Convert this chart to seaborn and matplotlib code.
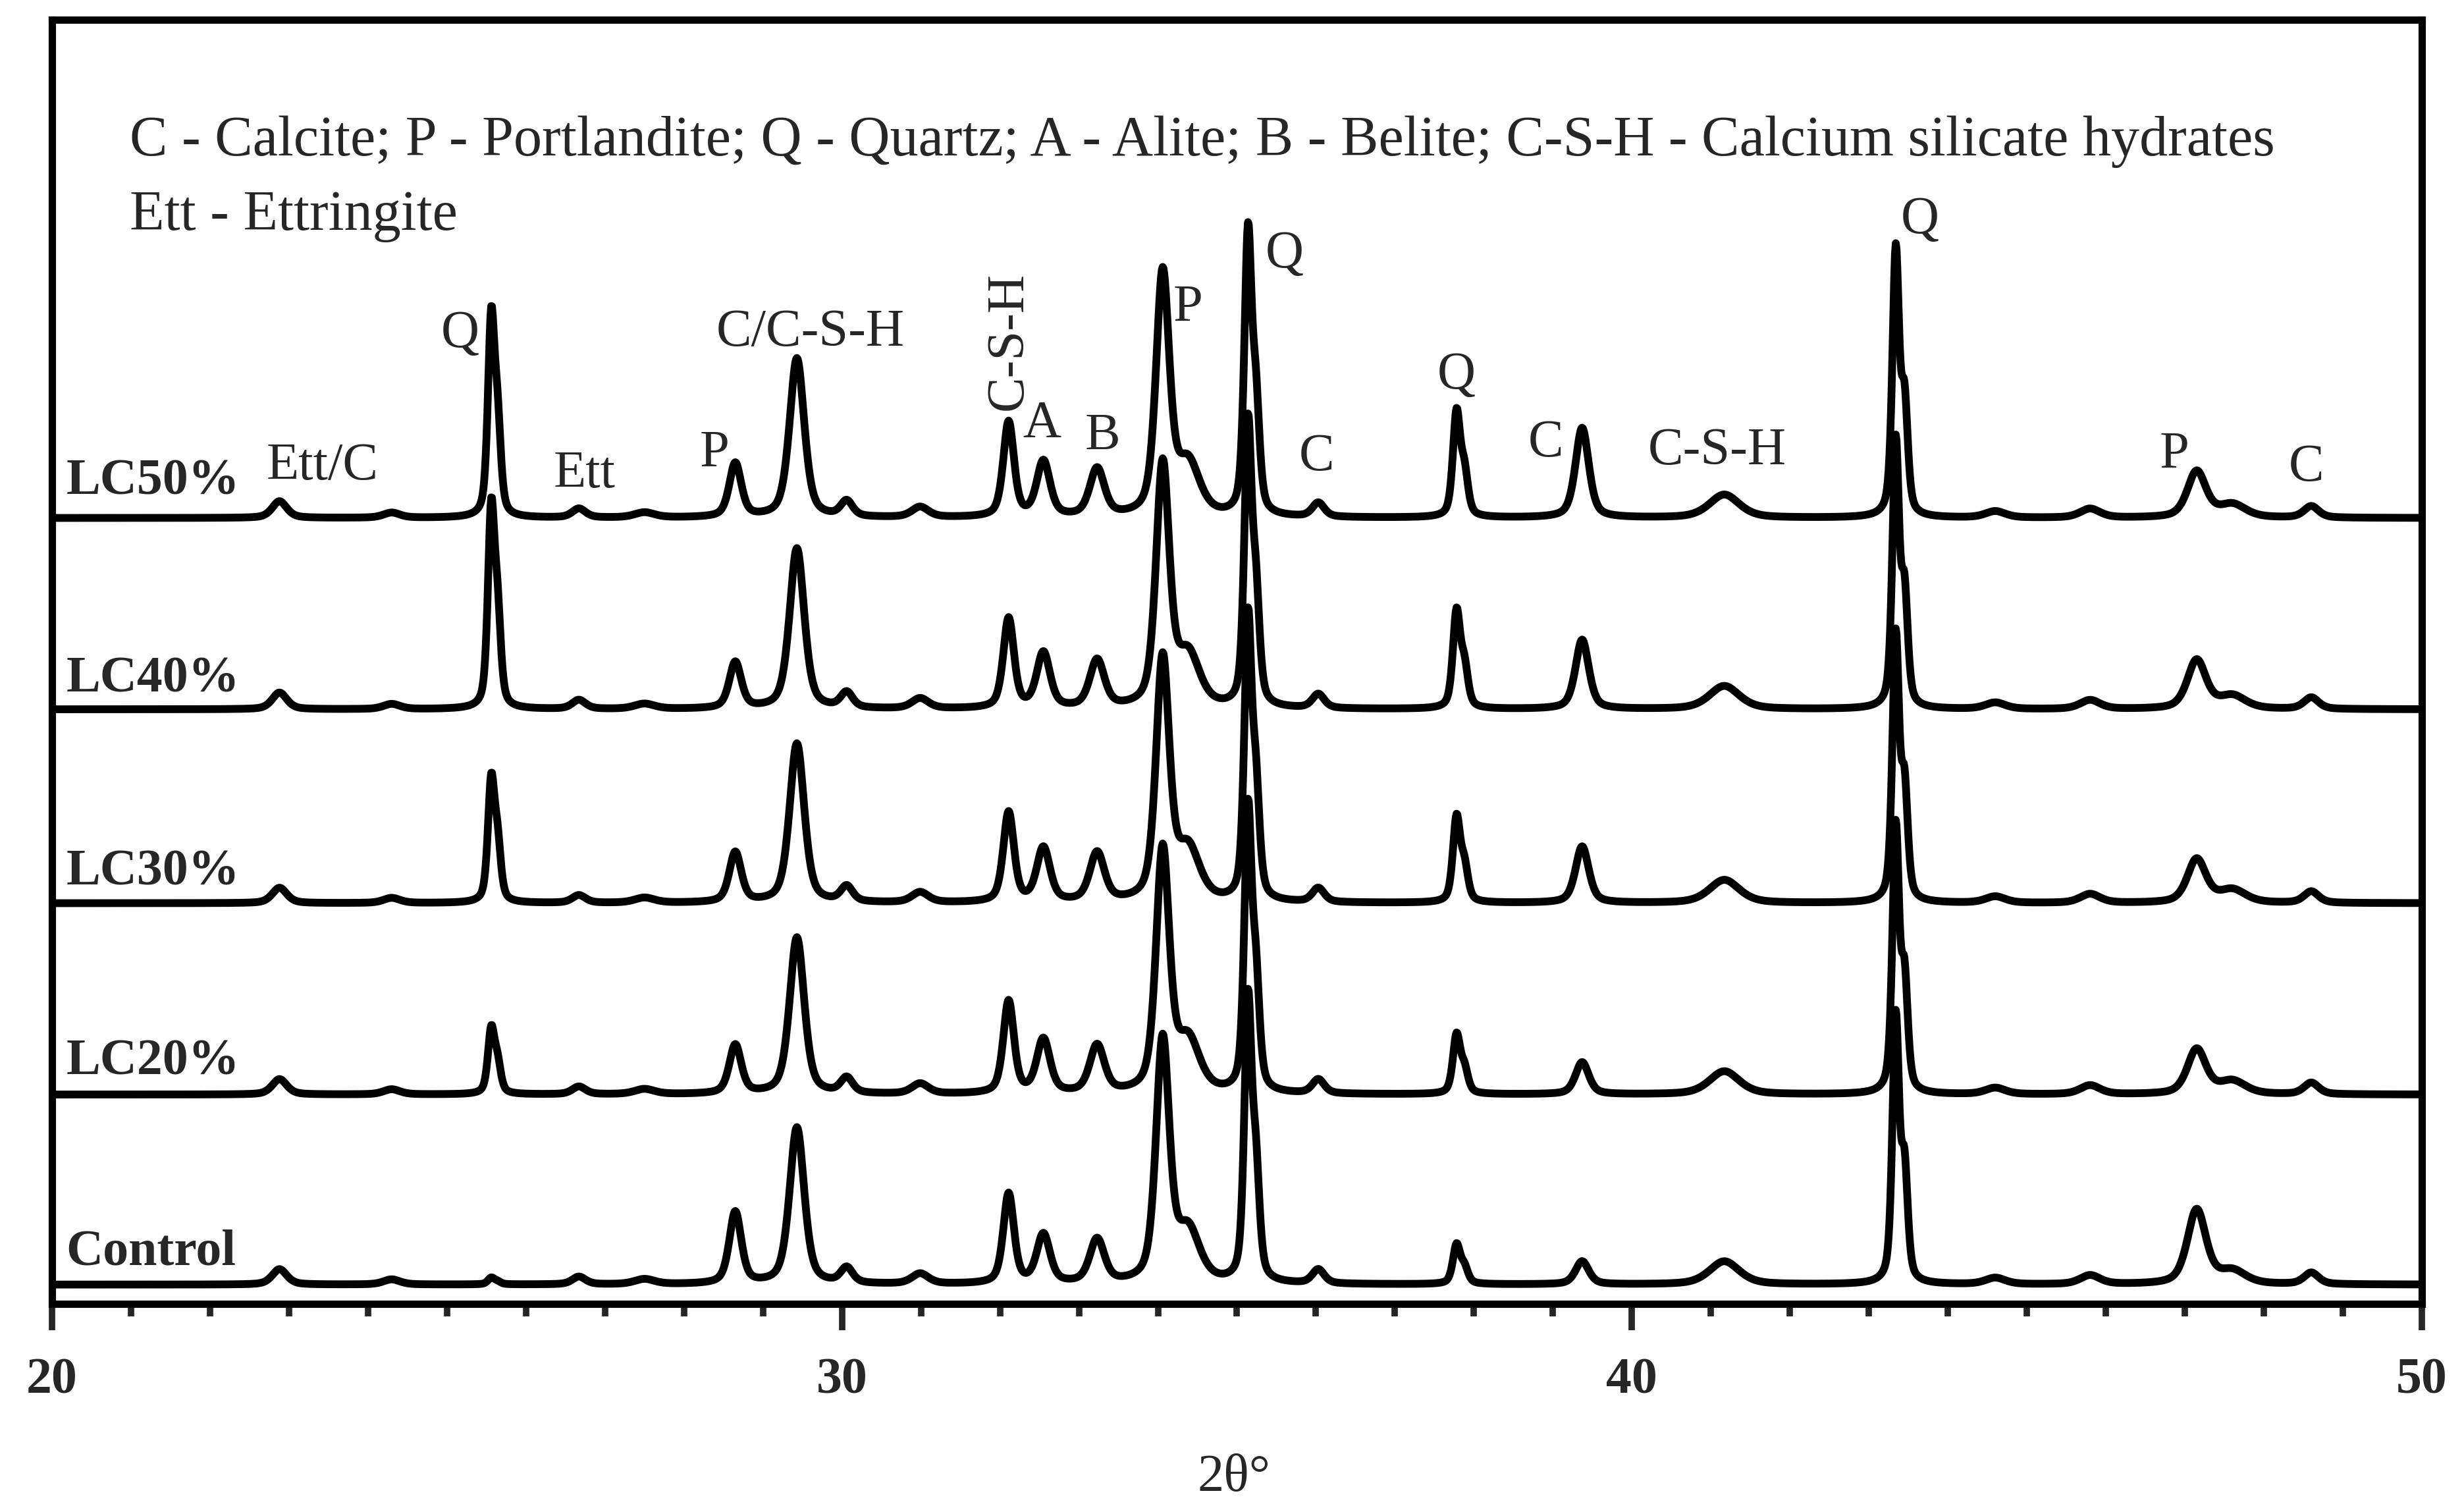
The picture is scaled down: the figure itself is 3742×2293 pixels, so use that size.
import numpy as np
import pandas as pd
import matplotlib
matplotlib.use("Agg")
import matplotlib.pyplot as plt
import seaborn as sns

# reflections: 2theta (deg), width (deg)
peak_pos = [22.88, 24.30, 25.56, 25.64, 26.67, 27.50, 28.65, 29.43, 30.06, 30.99,
            32.11, 32.55, 33.23, 34.06, 34.38, 35.14, 35.24, 36.03, 37.78, 37.88,
            39.37, 41.17, 43.34, 43.45, 44.60, 45.80, 47.15, 47.60, 48.60]
peak_fwhm = [0.22, 0.25, 0.10, 0.10, 0.20, 0.30, 0.18, 0.22, 0.18, 0.25,
             0.16, 0.20, 0.22, 0.20, 0.35, 0.11, 0.11, 0.18, 0.11, 0.11,
             0.20, 0.45, 0.10, 0.10, 0.30, 0.30, 0.28, 0.40, 0.22]

# peak heights above baseline for each sample (same order as peak_pos)
control = [1.2, 0.4, 0.5, 0.2, 0.6, 0.4, 5.6, 12.2, 1.2, 0.8,
           7.0, 3.8, 3.4, 18.8, 4.0, 21.5, 8.0, 1.1, 3.0, 1.2,
           1.8, 1.8, 20.5, 8.5, 0.5, 0.7, 5.8, 1.0, 0.9]
lc20 = [1.2, 0.4, 4.9, 2.2, 0.6, 0.4, 3.8, 12.2, 1.2, 0.8,
        7.2, 4.2, 3.7, 18.8, 4.0, 21.5, 8.0, 1.1, 4.5, 1.8,
        2.5, 1.8, 20.5, 8.5, 0.5, 0.7, 3.5, 1.0, 0.9]
lc30 = [1.2, 0.4, 9.2, 4.2, 0.6, 0.4, 3.9, 12.4, 1.2, 0.8,
        7.0, 4.2, 3.8, 18.8, 4.0, 21.5, 8.0, 1.1, 6.5, 2.6,
        4.4, 1.8, 20.5, 8.5, 0.5, 0.7, 3.4, 1.0, 0.9]
lc40 = [1.3, 0.4, 15.0, 6.6, 0.7, 0.4, 3.6, 12.5, 1.2, 0.8,
        7.0, 4.3, 3.7, 18.8, 4.0, 21.5, 8.0, 1.1, 7.4, 3.0,
        5.4, 1.8, 20.5, 8.5, 0.5, 0.7, 3.8, 1.0, 0.9]
lc50 = [1.3, 0.4, 15.0, 6.6, 0.7, 0.4, 4.2, 12.4, 1.2, 0.8,
        7.4, 4.3, 3.7, 18.8, 4.0, 21.5, 8.0, 1.1, 8.0, 3.2,
        7.0, 1.8, 20.5, 8.5, 0.5, 0.7, 3.6, 1.0, 0.9]

samples = ['Control', 'LC20%', 'LC30%', 'LC40%', 'LC50%']
heights = [control, lc20, lc30, lc40, lc50]
offsets = [1.5, 16.3, 31.2, 46.3, 61.2]   # vertical stacking of the patterns

# phase labels: text, 2theta, height
phase_labels = [('Ett/C', 23.42, 65.2), ('Q', 25.17, 75.5), ('Ett', 26.74, 64.6),
                ('P', 28.39, 66.2), ('C/C-S-H', 29.60, 75.6), ('A', 32.53, 68.5),
                ('B', 33.30, 67.5), ('P', 34.38, 77.5), ('Q', 35.60, 81.7),
                ('C', 36.01, 65.9), ('Q', 37.78, 72.3), ('C', 38.91, 67.0),
                ('C-S-H', 41.08, 66.4), ('Q', 43.65, 84.4), ('P', 46.87, 66.1),
                ('C', 48.54, 65.1)]

two_theta = np.arange(20.0, 50.0001, 0.01)


def pattern(h):
    # pseudo-Voigt sum of the listed reflections
    y = np.zeros_like(two_theta)
    for p, w, a in zip(peak_pos, peak_fwhm, h):
        hw = w / 2
        lor = 1 / (1 + ((two_theta - p) / hw) ** 2)
        gau = np.exp(-np.log(2) * ((two_theta - p) / hw) ** 2)
        y += a * (0.5 * lor + 0.5 * gau)
    return y


frames = []
for name, h, off in zip(samples, heights, offsets):
    frames.append(pd.DataFrame({'2theta': two_theta, 'intensity': pattern(h) + off, 'sample': name}))
df = pd.concat(frames, ignore_index=True)

sns.set_style('white')
plt.rcParams['font.family'] = ['Liberation Serif', 'DejaVu Serif']

fig = plt.figure(figsize=(37.42, 22.93), dpi=100)
ax = fig.add_axes([0.0211, 0.1365, 0.9618, 0.8504])

sns.lineplot(data=df, x='2theta', y='intensity', units='sample', estimator=None,
             color='black', linewidth=8.5, ax=ax)

ax.set_xlim(20, 50)
ax.set_ylim(0, 100)
ax.set_yticks([])
ax.set_ylabel('')
ax.set_xticks([20, 30, 40, 50])
ax.set_xticks(np.arange(20, 51, 1), minor=True)
ax.tick_params(axis='x', which='major', direction='out', length=29, width=7, pad=30,
               labelsize=56, bottom=True)
ax.tick_params(axis='x', which='minor', direction='out', length=14, width=7, bottom=True)
for lab in ax.get_xticklabels():
    lab.set_fontweight('bold')
for sp in ax.spines.values():
    sp.set_color('black')
    sp.set_linewidth(8)

ax.set_xlabel('2θ°', fontsize=58)
ax.xaxis.set_label_coords(0.4987, -0.117)

# key
ax.text(20.98, 90.5, 'C - Calcite; P - Portlandite; Q - Quartz; A - Alite; B - Belite; '
        'C-S-H - Calcium silicate hydrates', fontsize=62, ha='left', va='center')
ax.text(20.98, 84.7, 'Ett - Ettringite', fontsize=62, ha='left', va='center')

# sample names
label_y = [4.0, 18.8, 33.6, 48.6, 64.0]
for name, ly in zip(samples, label_y):
    ax.text(20.18, ly, name, fontsize=56, fontweight='bold', ha='left', va='center')

for txt, px, py in phase_labels:
    ax.text(px, py, txt, fontsize=58, ha='center', va='center')
ax.text(32.11, 75.0, 'C-S-H', fontsize=58, ha='center', va='center', rotation=90)

fig.savefig('out.png', dpi=100, facecolor='white')
